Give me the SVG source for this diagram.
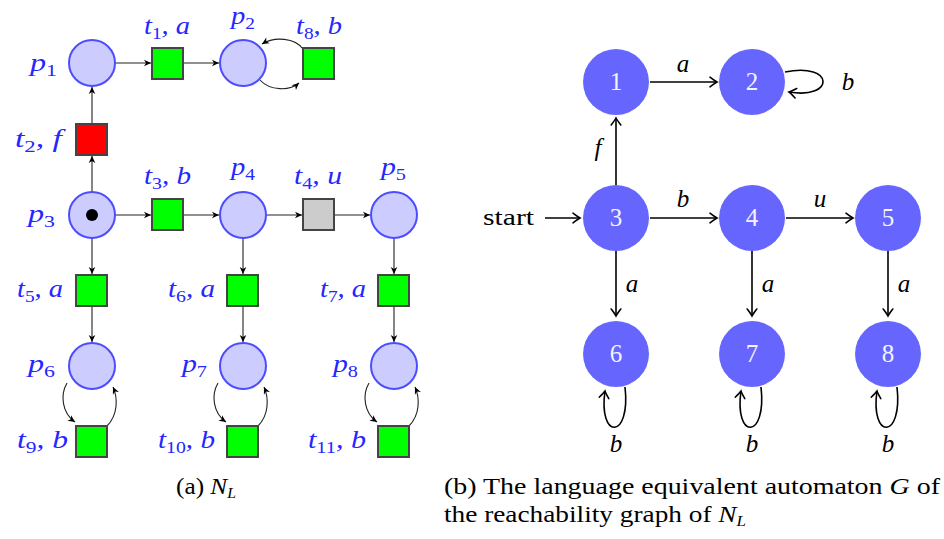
<svg xmlns="http://www.w3.org/2000/svg" width="944" height="539" viewBox="0 0 944 539">
<style>
.place{fill:#ccccff;stroke:#4d4dff;stroke-width:2}
.trg{fill:#00ff00;stroke:#444;stroke-width:2}
.trr{fill:#ff0000;stroke:#444;stroke-width:2}
.trx{fill:#cccccc;stroke:#444;stroke-width:2}
.lbl{font-family:"Liberation Serif","DejaVu Serif",serif;font-style:italic;font-size:25px;fill:#2626ff}
.sub{font-style:normal;font-size:17px}
.arc{fill:none;stroke:#222;stroke-width:1.1;marker-end:url(#st)}
.st{fill:#6666ff}
.num{font-family:"Liberation Serif","DejaVu Serif",serif;font-size:25px;fill:#f4f4ff;text-anchor:middle}
.ed{fill:none;stroke:#000;stroke-width:1.6;marker-end:url(#to)}
.el{font-family:"Liberation Serif","DejaVu Serif",serif;font-style:italic;font-size:25px;fill:#000;text-anchor:middle}
.cap{font-family:"Liberation Serif","DejaVu Serif",serif;font-size:24px;fill:#000}
</style>
<defs>
<marker id="st" viewBox="-8 -4 9 8" refX="0" refY="0" markerWidth="9" markerHeight="8" orient="auto" markerUnits="userSpaceOnUse"><path d="M0,0 L-7,-3.3 L-5,0 L-7,3.3 Z" fill="#000"/></marker>
<marker id="to" viewBox="-9 -6 11 12" refX="0" refY="0" markerWidth="11" markerHeight="12" orient="auto" markerUnits="userSpaceOnUse"><path d="M-7,-4.8 Q-2,-1 0,0 Q-2,1 -7,4.8" fill="none" stroke="#000" stroke-width="1.6" stroke-linecap="round"/></marker>
</defs>
<rect width="944" height="539" fill="#fff"/>

<!-- Left panel connectors -->
<g id="petri-arcs">
<line class="arc" x1="115" y1="63" x2="151" y2="63"/>
<line class="arc" x1="183" y1="63" x2="219" y2="63"/>
<path class="arc" d="M303,49 C295,38 275,36 262,44"/>
<path class="arc" d="M260,80 C270,91 290,91 299,83"/>
<line class="arc" x1="92" y1="124" x2="92" y2="87"/>
<line class="arc" x1="92" y1="192" x2="92" y2="156"/>
<line class="arc" x1="115" y1="215" x2="151" y2="215"/>
<line class="arc" x1="183" y1="215" x2="219" y2="215"/>
<line class="arc" x1="266" y1="215" x2="302" y2="215"/>
<line class="arc" x1="334" y1="215" x2="370" y2="215"/>
<line class="arc" x1="92" y1="238" x2="92" y2="274"/>
<line class="arc" x1="243" y1="238" x2="243" y2="274"/>
<line class="arc" x1="394" y1="238" x2="394" y2="274"/>
<line class="arc" x1="92" y1="306" x2="92" y2="342"/>
<line class="arc" x1="243" y1="306" x2="243" y2="342"/>
<line class="arc" x1="394" y1="306" x2="394" y2="342"/>
<path class="arc" d="M67,383 C60,395 62,413 75,422"/>
<path class="arc" d="M107,426 C118,415 118,398 113,387"/>
<path class="arc" d="M218,383 C211,395 213,413 226,422"/>
<path class="arc" d="M258,426 C269,415 269,398 264,387"/>
<path class="arc" d="M369,383 C362,395 364,413 377,422"/>
<path class="arc" d="M409,426 C420,415 420,398 415,387"/>
</g>

<!-- Places -->
<g id="p1"><circle class="place" cx="92" cy="63" r="23"/><text class="lbl" x="30" y="71" textLength="27" lengthAdjust="spacingAndGlyphs">p<tspan class="sub" dy="5">1</tspan></text></g>
<g id="p2"><circle class="place" cx="243" cy="63" r="23"/><text class="lbl" x="231" y="24" textLength="24" lengthAdjust="spacingAndGlyphs">p<tspan class="sub" dy="5">2</tspan></text></g>
<g id="p3"><circle class="place" cx="92" cy="215" r="23"/><circle cx="92" cy="215" r="6" fill="#000"/><text class="lbl" x="28" y="222" textLength="27" lengthAdjust="spacingAndGlyphs">p<tspan class="sub" dy="5">3</tspan></text></g>
<g id="p4"><circle class="place" cx="243" cy="215" r="23"/><text class="lbl" x="231" y="175" textLength="24" lengthAdjust="spacingAndGlyphs">p<tspan class="sub" dy="5">4</tspan></text></g>
<g id="p5"><circle class="place" cx="394" cy="215" r="23"/><text class="lbl" x="381" y="175" textLength="25" lengthAdjust="spacingAndGlyphs">p<tspan class="sub" dy="5">5</tspan></text></g>
<g id="p6"><circle class="place" cx="92" cy="366" r="23"/><text class="lbl" x="28" y="372" textLength="27" lengthAdjust="spacingAndGlyphs">p<tspan class="sub" dy="5">6</tspan></text></g>
<g id="p7"><circle class="place" cx="243" cy="366" r="23"/><text class="lbl" x="182" y="372" textLength="25" lengthAdjust="spacingAndGlyphs">p<tspan class="sub" dy="5">7</tspan></text></g>
<g id="p8"><circle class="place" cx="394" cy="366" r="23"/><text class="lbl" x="333" y="372" textLength="25" lengthAdjust="spacingAndGlyphs">p<tspan class="sub" dy="5">8</tspan></text></g>

<!-- Transitions -->
<g id="t1"><rect class="trg" x="152" y="48" width="31" height="31"/><text class="lbl" x="144" y="34" textLength="46" lengthAdjust="spacingAndGlyphs">t<tspan class="sub" dy="5">1</tspan><tspan dy="-5">, a</tspan></text></g>
<g id="t8"><rect class="trg" x="303" y="48" width="31" height="31"/><text class="lbl" x="296" y="34" textLength="46" lengthAdjust="spacingAndGlyphs">t<tspan class="sub" dy="5">8</tspan><tspan dy="-5">, b</tspan></text></g>
<g id="t2"><rect class="trr" x="76" y="124" width="31" height="31"/><text class="lbl" x="15" y="147" textLength="47" lengthAdjust="spacingAndGlyphs">t<tspan class="sub" dy="5">2</tspan><tspan dy="-5">, f</tspan></text></g>
<g id="t3"><rect class="trg" x="152" y="199" width="31" height="31"/><text class="lbl" x="144" y="184" textLength="47" lengthAdjust="spacingAndGlyphs">t<tspan class="sub" dy="5">3</tspan><tspan dy="-5">, b</tspan></text></g>
<g id="t4"><rect class="trx" x="303" y="199" width="31" height="31"/><text class="lbl" x="294" y="184" textLength="48" lengthAdjust="spacingAndGlyphs">t<tspan class="sub" dy="5">4</tspan><tspan dy="-5">, u</tspan></text></g>
<g id="t5"><rect class="trg" x="76" y="275" width="31" height="31"/><text class="lbl" x="17" y="297" textLength="46" lengthAdjust="spacingAndGlyphs">t<tspan class="sub" dy="5">5</tspan><tspan dy="-5">, a</tspan></text></g>
<g id="t6"><rect class="trg" x="227" y="275" width="31" height="31"/><text class="lbl" x="168" y="297" textLength="47" lengthAdjust="spacingAndGlyphs">t<tspan class="sub" dy="5">6</tspan><tspan dy="-5">, a</tspan></text></g>
<g id="t7"><rect class="trg" x="378" y="275" width="31" height="31"/><text class="lbl" x="320" y="297" textLength="46" lengthAdjust="spacingAndGlyphs">t<tspan class="sub" dy="5">7</tspan><tspan dy="-5">, a</tspan></text></g>
<g id="t9"><rect class="trg" x="76" y="426" width="31" height="31"/><text class="lbl" x="17" y="448" textLength="51" lengthAdjust="spacingAndGlyphs">t<tspan class="sub" dy="5">9</tspan><tspan dy="-5">, b</tspan></text></g>
<g id="t10"><rect class="trg" x="227" y="426" width="31" height="31"/><text class="lbl" x="158" y="448" textLength="57" lengthAdjust="spacingAndGlyphs">t<tspan class="sub" dy="5">10</tspan><tspan dy="-5">, b</tspan></text></g>
<g id="t11"><rect class="trg" x="378" y="426" width="31" height="31"/><text class="lbl" x="308" y="448" textLength="58" lengthAdjust="spacingAndGlyphs">t<tspan class="sub" dy="5">11</tspan><tspan dy="-5">, b</tspan></text></g>

<!-- Right panel connectors -->
<g id="automaton-edges">
<line class="ed" x1="650" y1="82" x2="717" y2="82"/>
<path class="ed" d="M785,72 C835,62 835,100 789,92"/>
<line class="ed" x1="616" y1="185" x2="616" y2="118"/>
<line class="ed" x1="545" y1="218" x2="580" y2="218"/>
<line class="ed" x1="650" y1="218" x2="717" y2="218"/>
<line class="ed" x1="786" y1="218" x2="853" y2="218"/>
<line class="ed" x1="616" y1="251" x2="616" y2="316"/>
<line class="ed" x1="752" y1="251" x2="752" y2="316"/>
<line class="ed" x1="888" y1="251" x2="888" y2="316"/>
<path class="ed" d="M625,387 C631,440 598,440 605,391"/>
<path class="ed" d="M761,387 C767,440 734,440 741,391"/>
<path class="ed" d="M897,387 C903,440 870,440 877,391"/>
<text class="el" x="683" y="72">a</text>
<text class="el" x="848" y="90">b</text>
<text class="el" x="598" y="156">f</text>
<text class="el" x="683" y="207">b</text>
<text class="el" x="820" y="207">u</text>
<text class="el" x="632" y="292">a</text>
<text class="el" x="768" y="292">a</text>
<text class="el" x="904" y="292">a</text>
<text class="el" x="616" y="452">b</text>
<text class="el" x="752" y="452">b</text>
<text class="el" x="888" y="452">b</text>
<text class="cap" x="483" y="225" font-size="25" textLength="51" lengthAdjust="spacingAndGlyphs">start</text>
</g>

<!-- States -->
<g id="s1"><circle class="st" cx="616" cy="82" r="33"/><text class="num" x="616" y="90">1</text></g>
<g id="s2"><circle class="st" cx="752" cy="82" r="33"/><text class="num" x="752" y="90">2</text></g>
<g id="s3"><circle class="st" cx="616" cy="218" r="33"/><text class="num" x="616" y="226">3</text></g>
<g id="s4"><circle class="st" cx="752" cy="218" r="33"/><text class="num" x="752" y="226">4</text></g>
<g id="s5"><circle class="st" cx="888" cy="218" r="33"/><text class="num" x="888" y="226">5</text></g>
<g id="s6"><circle class="st" cx="616" cy="354" r="33"/><text class="num" x="616" y="362">6</text></g>
<g id="s7"><circle class="st" cx="752" cy="354" r="33"/><text class="num" x="752" y="362">7</text></g>
<g id="s8"><circle class="st" cx="888" cy="354" r="33"/><text class="num" x="888" y="362">8</text></g>

<!-- Captions -->
<text class="cap" x="176" y="494" textLength="60" lengthAdjust="spacingAndGlyphs">(a) <tspan font-style="italic">N</tspan><tspan font-style="italic" font-size="15" dy="4">L</tspan></text>
<text class="cap" x="444" y="494" textLength="496" lengthAdjust="spacingAndGlyphs">(b) The language equivalent automaton <tspan font-style="italic">G</tspan> of</text>
<text class="cap" x="444" y="522" textLength="302" lengthAdjust="spacingAndGlyphs">the reachability graph of <tspan font-style="italic">N</tspan><tspan font-style="italic" font-size="15" dy="4">L</tspan></text>
</svg>
